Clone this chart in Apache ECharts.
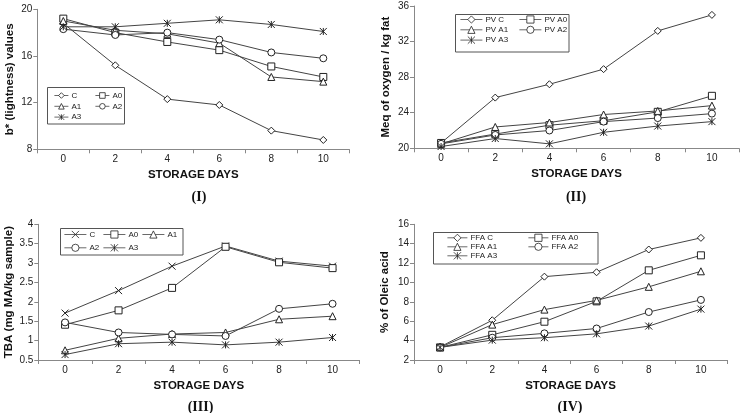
<!DOCTYPE html>
<html><head><meta charset="utf-8">
<script src="https://cdn.jsdelivr.net/npm/echarts@6/dist/echarts.min.js"></script>
<style>html,body{margin:0;padding:0;background:#fff}#c{width:741px;height:413px}</style>
</head><body><div id="c"></div>
<script>
const days = ['0','2','4','6','8','10'];
// Panel I : b* (lightness)
const bNames = ['C','A0','A1','A2','A3'];
const bC  = [18.8,15.2,12.3,11.8,9.6,8.8];
const bA0 = [19.2,18.0,17.2,16.5,15.1,14.2];
const bA1 = [19.0,18.2,17.9,17.1,14.2,13.8];
const bA2 = [18.3,17.8,18.0,17.4,16.3,15.8];
const bA3 = [18.5,18.5,18.8,19.1,18.7,18.1];
// Panel II : peroxide value
const pvNames = ['PV C','PV A0','PV A1','PV A2','PV A3'];
const pvC  = [20.6,25.7,27.2,28.9,33.2,35.0];
const pvA0 = [20.6,21.6,22.6,23.1,24.1,25.9];
const pvA1 = [20.5,22.4,22.9,23.8,24.2,24.8];
const pvA2 = [20.5,21.5,22.0,23.0,23.4,23.9];
const pvA3 = [20.2,21.1,20.5,21.8,22.5,23.0];
// Panel III : TBA
const tbaNames = ['C ','A0 ','A1 ','A2 ','A3 '];
const tbaC  = [1.71,2.29,2.92,3.44,3.05,2.92];
const tbaA0 = [1.41,1.78,2.36,3.42,3.02,2.87];
const tbaA1 = [0.75,1.06,1.17,1.21,1.55,1.63];
const tbaA2 = [1.47,1.21,1.16,1.12,1.82,1.95];
const tbaA3 = [0.64,0.92,0.96,0.89,0.96,1.08];
// Panel IV : FFA
const ffaNames = ['FFA C','FFA A0','FFA A1','FFA A2','FFA A3'];
const ffaC  = [3.35,6.1,10.6,11.05,13.4,14.6];
const ffaA0 = [3.3,4.6,5.95,8.05,11.25,12.8];
const ffaA1 = [3.3,5.65,7.2,8.15,9.55,11.15];
const ffaA2 = [3.3,4.3,4.75,5.25,6.95,8.2];
const ffaA3 = [3.3,4.05,4.3,4.7,5.5,7.25];

const AST = 'path://M0,0L10,10M10,0L0,10M5,0L5,10';
const CROSS = 'path://M0,0L10,10M10,0L0,10';
const FONT = '"Liberation Sans", Arial, sans-serif';

function mk(name, data, sym, gi) {
  return {type:'line', name, data, xAxisIndex:gi, yAxisIndex:gi, symbol:sym, symbolSize:7,
    showSymbol:true, lineStyle:{color:'#444', width:1},
    itemStyle:{color:'#fff', borderColor:'#222', borderWidth:1},
    emphasis:{disabled:true}, silent:true, animation:false, z:3};
}
function leg(data, left, top, iw, ih, gap) {
  return {data, orient:'vertical', left, top, itemWidth:iw, itemHeight:ih, itemGap:gap, padding:0,
    selectedMode:false, formatter:n=>n.trim(),
    itemStyle:{color:'#fff', borderColor:'#222', borderWidth:0.8},
    lineStyle:{color:'#444', width:0.8},
    textStyle:{fontSize:8, color:'#222', fontFamily:FONT, padding:[0,0,0,-2]}};
}
function xa(gi) {
  return {type:'category', gridIndex:gi, data:days, boundaryGap:true,
    axisLine:{show:true, lineStyle:{color:'#888', width:1}},
    axisTick:{show:true, length:4, lineStyle:{color:'#888'}},
    axisLabel:{fontSize:10, color:'#222', fontFamily:FONT, margin:5},
    name:'STORAGE DAYS', nameLocation:'middle', nameGap:20,
    nameTextStyle:{fontSize:11.5, fontWeight:'bold', color:'#111', fontFamily:FONT}};
}
function ya(gi, min, max, interval, name, gap) {
  return {type:'value', gridIndex:gi, min, max, interval,
    axisLine:{show:true, lineStyle:{color:'#888', width:1}},
    axisTick:{show:true, length:4, lineStyle:{color:'#888'}},
    splitLine:{show:false},
    axisLabel:{fontSize:10, color:'#222', fontFamily:FONT, margin:5},
    name, nameLocation:'middle', nameGap:gap,
    nameTextStyle:{fontSize:11.5, fontWeight:'bold', color:'#111', fontFamily:FONT}};
}
function box(x,y,w,h){return {type:'rect', shape:{x,y,width:w,height:h}, style:{fill:'#fff', stroke:'#555', lineWidth:1}, z:1, silent:true};}
function roman(t,x,y){return {type:'text', x, y, style:{text:t, fontSize:14, fontWeight:'bold', fontFamily:'"Liberation Serif", "Times New Roman", serif', fill:'#111', align:'center', verticalAlign:'middle'}, silent:true};}

const option = {
  backgroundColor:'#fff',
  animation:false,
  grid:[
    {left:37.3, top:9.3, width:312, height:140},
    {left:414, top:6, width:325, height:142.3},
    {left:38.3, top:224.3, width:321, height:135.7},
    {left:414, top:224.3, width:313, height:135.7}
  ],
  xAxis:[xa(0), xa(1), xa(2), xa(3)],
  yAxis:[
    ya(0, 8, 20, 4, 'b* (lightness) values', 21),
    ya(1, 20, 36, 4, 'Meq of oxygen / kg fat', 22),
    ya(2, 0.5, 4, 0.5, 'TBA (mg MA/kg sample)', 23),
    ya(3, 2, 16, 2, '% of Oleic acid', 23.5)
  ],
  legend:[
    leg([bNames[0], bNames[2], bNames[4]], 54, 91.5, 14, 7, 2.8),
    leg([bNames[1], bNames[3]], 95, 91.5, 14, 7, 2.8),
    leg([pvNames[0], pvNames[2], pvNames[4]], 460, 15.5, 22, 9, 2.3),
    leg([pvNames[1], pvNames[3]], 519, 15.5, 22, 9, 2.3),
    leg([tbaNames[0], tbaNames[3]], 64, 230.5, 22, 9, 5.3),
    leg([tbaNames[1], tbaNames[4]], 103, 230.5, 22, 9, 5.3),
    leg([tbaNames[2]], 142, 230.5, 22, 9, 5.3),
    leg([ffaNames[0], ffaNames[2], ffaNames[4]], 447, 233.8, 20, 9, 1),
    leg([ffaNames[1], ffaNames[3]], 528, 233.8, 20, 9, 1)
  ],
  graphic:[
    box(47.5, 87.5, 77, 36.5),
    box(455.5, 14.5, 113.5, 37.5),
    box(60.5, 228.5, 122.5, 26.5),
    box(433.5, 232.5, 164.5, 31.5),
    roman('(I)', 199, 197),
    roman('(II)', 576, 197),
    roman('(III)', 200.5, 407.5),
    roman('(IV)', 570, 407.5)
  ],
  series:[
    mk(bNames[0], bC, 'diamond', 0),
    mk(bNames[1], bA0, 'rect', 0),
    mk(bNames[2], bA1, 'triangle', 0),
    mk(bNames[3], bA2, 'circle', 0),
    mk(bNames[4], bA3, AST, 0),
    mk(pvNames[0], pvC, 'diamond', 1),
    mk(pvNames[1], pvA0, 'rect', 1),
    mk(pvNames[2], pvA1, 'triangle', 1),
    mk(pvNames[3], pvA2, 'circle', 1),
    mk(pvNames[4], pvA3, AST, 1),
    mk(tbaNames[0], tbaC, CROSS, 2),
    mk(tbaNames[1], tbaA0, 'rect', 2),
    mk(tbaNames[2], tbaA1, 'triangle', 2),
    mk(tbaNames[3], tbaA2, 'circle', 2),
    mk(tbaNames[4], tbaA3, AST, 2),
    mk(ffaNames[0], ffaC, 'diamond', 3),
    mk(ffaNames[1], ffaA0, 'rect', 3),
    mk(ffaNames[2], ffaA1, 'triangle', 3),
    mk(ffaNames[3], ffaA2, 'circle', 3),
    mk(ffaNames[4], ffaA3, AST, 3)
  ]
};
const chart = echarts.init(document.getElementById('c'), null, {renderer:'canvas'});
chart.setOption(option);
</script>
</body></html>
